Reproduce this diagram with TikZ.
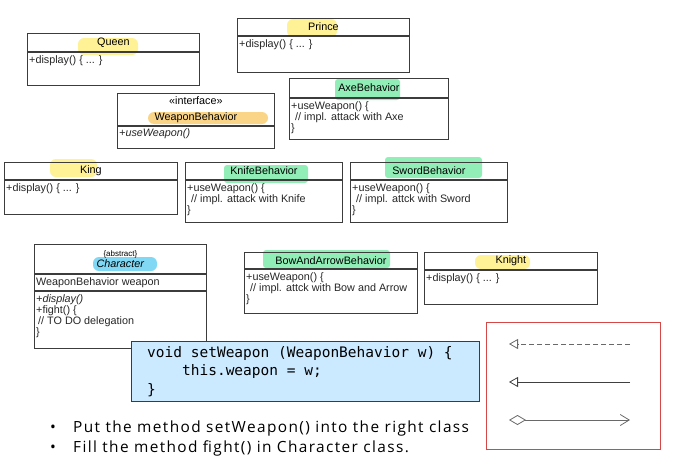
\documentclass[tikz,border=0pt]{standalone}
\usepackage{fontspec}
\setmainfont{Liberation Sans}
\newfontfamily\codefont{DejaVu Sans Mono}[WordSpace={1,0,0}]
\newfontfamily\taskfont{Open Sans}[LetterSpace=9]
\usetikzlibrary{positioning, arrows.meta}

\definecolor{boxline}{RGB}{60,60,60}
\definecolor{hlyellow}{RGB}{255,241,150}
\definecolor{hlorange}{RGB}{250,213,135}
\definecolor{hlgreen}{RGB}{145,238,182}
\definecolor{hlblue}{RGB}{128,216,245}
\definecolor{codefill}{RGB}{204,234,255}
\definecolor{legendred}{RGB}{214,72,72}
\definecolor{tipgray}{RGB}{105,105,105}

\tikzstyle{classhead} = [rectangle, 
anchor=north west, 
draw=boxline, 
line width=0.8pt, 
inner sep=0pt, 
align=center, 
font=\fontsize{10.8}{11}\selectfont]
\tikzstyle{classbody} = [rectangle, 
draw=boxline, 
line width=0.8pt, 
inner sep=0pt]
\tikzstyle{members} = [inner sep=0pt, 
align=left, 
text=black!85, 
font=\fontsize{10.8}{11}\selectfont]
\tikzstyle{marker} = [rounded corners=6pt]
\tikzstyle{codebox} = [rectangle, 
anchor=north west, 
draw=boxline, 
line width=0.9pt, 
fill=codefill, 
minimum width=348, 
minimum height=60]
\tikzstyle{code} = [inner sep=0pt, 
align=left, 
font=\codefont\fontsize{14.5}{18.5}\selectfont]
\tikzstyle{task} = [anchor=base west, 
inner sep=0pt, 
font=\taskfont\fontsize{15.4}{18}\selectfont]
\tikzstyle{legendbox} = [rectangle, 
anchor=north west, 
draw=legendred, 
line width=0.9pt, 
minimum width=174, 
minimum height=127]
\tikzstyle{realize} = [tipgray, line width=0.8pt, dash pattern=on 5pt off 3pt, 
-{Triangle[open, length=9pt, width=10pt]}]
\tikzstyle{inherit} = [black!75, line width=0.8pt, 
-{Triangle[open, length=9pt, width=10pt]}]
\tikzstyle{hasa} = [tipgray, line width=0.8pt, 
{Diamond[open, length=17pt, width=10pt]}-{Straight Barb[length=9pt, width=11pt]}]

\begin{document}
\begin{tikzpicture}[x=1pt, y=-1pt]
\useasboundingbox (0,0) rectangle (680,466);

% marker strokes behind the class names
\fill [hlyellow, marker] (78,38) rectangle (138,55);
\fill [hlyellow, marker] (287,19) rectangle (337,37);
\fill [hlorange, marker] (148,112) rectangle (268,124);
\fill [hlgreen, rounded corners=3pt] (335,79) rectangle (400,100);
\fill [hlyellow, marker] (50,159) rectangle (97,177);
\fill [hlgreen, rounded corners=3pt] (224,165) rectangle (308,183);
\fill [hlgreen, rounded corners=3pt] (385,157) rectangle (482,178);
\fill [hlblue, marker] (93,257) rectangle (157,271);
\fill [hlgreen, rounded corners=3pt] (263,250) rectangle (390,268);
\fill [hlyellow, marker] (475,255) rectangle (530,269);

\node (queen) [classhead, minimum width=172, minimum height=18] at (27,33) {Queen};
\node (queenbody) [classbody, below=0pt of queen, minimum width=172, minimum height=33] {};
\node (queenops) [members, below right=4pt and 2pt of queenbody.north west] {+display() \{ ... \}};

\node (prince) [classhead, minimum width=172, minimum height=17] at (237,18) {Prince};
\node (princebody) [classbody, below=0pt of prince, minimum width=172, minimum height=36] {};
\node (princeops) [members, below right=4pt and 2pt of princebody.north west] {+display() \{ ... \}};

\node (weapon) [classhead, minimum width=157, minimum height=32] at (117,93) {«interface»\\[5pt]WeaponBehavior};
\node (weaponbody) [classbody, below=0pt of weapon, minimum width=157, minimum height=22] {};
\node (weaponops) [members, below right=2.5pt and 2pt of weaponbody.north west] {\textit{+useWeapon()}};

\node (axe) [classhead, minimum width=159, minimum height=19] at (289,78) {AxeBehavior};
\node (axebody) [classbody, below=0pt of axe, minimum width=159, minimum height=41] {};
\node (axeops) [members, below right=4pt and 2pt of axebody.north west] {+useWeapon() \{\\\hspace*{4pt}// impl. attack with Axe\\\}};

\node (king) [classhead, minimum width=173, minimum height=17] at (4,162) {King};
\node (kingbody) [classbody, below=0pt of king, minimum width=173, minimum height=34] {};
\node (kingops) [members, below right=4pt and 2pt of kingbody.north west] {+display() \{ ... \}};

\node (knife) [classhead, minimum width=157, minimum height=17] at (185,162) {KnifeBehavior};
\node (knifebody) [classbody, below=0pt of knife, minimum width=157, minimum height=42] {};
\node (knifeops) [members, below right=4pt and 2pt of knifebody.north west] {+useWeapon() \{\\\hspace*{4pt}// impl. attack with Knife\\\}};

\node (sword) [classhead, minimum width=157, minimum height=17] at (350,162) {SwordBehavior};
\node (swordbody) [classbody, below=0pt of sword, minimum width=157, minimum height=42] {};
\node (swordops) [members, below right=4pt and 2pt of swordbody.north west] {+useWeapon() \{\\\hspace*{4pt}// impl. attck with Sword\\\}};

\node (character) [classhead, minimum width=172, minimum height=29] at (34,244) {{\fontsize{8}{8}\selectfont\{abstract\}}\\\textit{Character}};
\node (characterattr) [classbody, below=0pt of character, minimum width=172, minimum height=16] {};
\node (characterbody) [classbody, below=0pt of characterattr, minimum width=172, minimum height=57] {};
\node (characterfield) [members, below right=4pt and 2pt of characterattr.north west] {WeaponBehavior weapon};
\node (characterops) [members, below right=3.5pt and 2pt of characterbody.north west] {\textit{+display()}\\+fight() \{\\\hspace*{2pt}// TO DO delegation\\\}};

\node (bow) [classhead, minimum width=173, minimum height=16] at (244,252) {BowAndArrowBehavior};
\node (bowbody) [classbody, below=0pt of bow, minimum width=173, minimum height=44] {};
\node (bowops) [members, below right=4pt and 2pt of bowbody.north west] {+useWeapon() \{\\\hspace*{4pt}// impl. attck with Bow and Arrow\\\}};

\node (knight) [classhead, minimum width=173, minimum height=17] at (424,252) {Knight};
\node (knightbody) [classbody, below=0pt of knight, minimum width=173, minimum height=34] {};
\node (knightops) [members, below right=4pt and 2pt of knightbody.north west] {+display() \{ ... \}};

\node (setweapon) [codebox] at (131,341) {};
\node (setweaponcode) [code, below right=5pt and 16pt of setweapon.north west] {void setWeapon (WeaponBehavior w) \{\\\phantom{void}this.weapon = w;\\\}};

\node (task1) [task] at (50,432.5) {\makebox[23pt][l]{•}Put the method setWeapon() into the right class};
\node (task2) [task] at (50,452.5) {\makebox[23pt][l]{•}Fill the method fight() in Character class.};

% legend of the arrows
\node (legend) [legendbox] at (486,322) {};
\coordinate (realizetail) at (630,344);
\coordinate (realizehead) at (509,344);
\coordinate (inherittail) at (630,382);
\coordinate (inherithead) at (509,382);
\coordinate (hasatail) at (509,420);
\coordinate (hasahead) at (630,420);
\draw [realize] (realizetail) -- (realizehead);
\draw [inherit] (inherittail) -- (inherithead);
\draw [hasa] (hasatail) -- (hasahead);

\end{tikzpicture}
\end{document}
